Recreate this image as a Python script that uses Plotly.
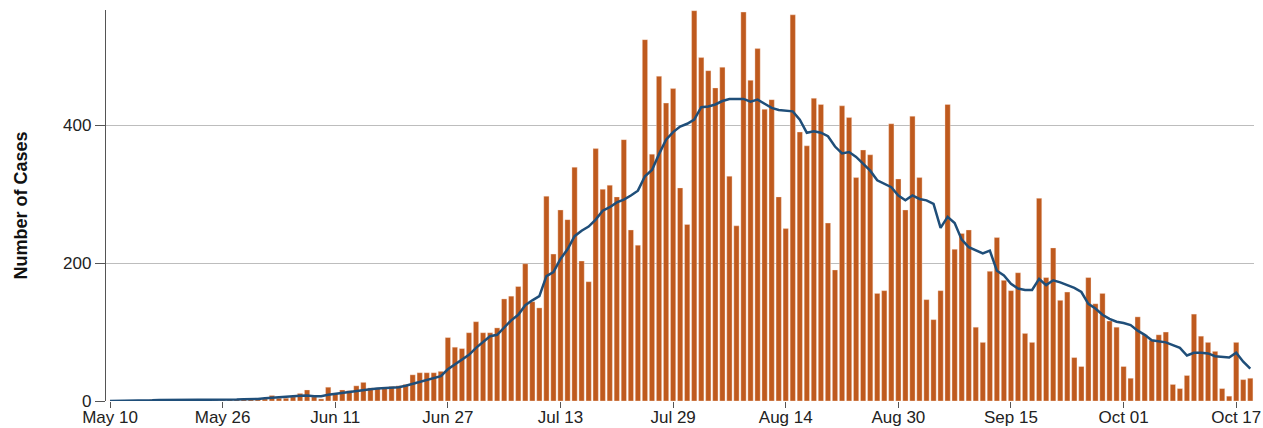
import pandas as pd
import plotly.graph_objects as go

# ---- data ----
start_date = "2020-05-10"

daily_cases = [
    0, 0, 0, 0, 0, 0, 2, 1, 1, 1, 1, 0, 1, 1, 1, 1, 2, 2, 2, 3, 3, 4, 3, 8,
    4, 4, 6, 11, 16, 6, 3, 20, 11, 16, 15, 22, 27, 19, 19, 20, 21, 22, 24, 38,
    41, 41, 41, 43, 92, 78, 76, 99, 115, 99, 99, 106, 148, 152, 166, 199, 144, 135,
    297, 213, 277, 263, 339, 203, 173, 366, 307, 313, 296, 379, 248, 226, 524, 358,
    471, 432, 453, 309, 256, 566, 498, 479, 454, 484, 326, 254, 564, 465, 511, 423,
    437, 296, 250, 560, 390, 370, 439, 430, 258, 190, 428, 411, 324, 364, 357, 156,
    160, 402, 322, 277, 413, 324, 147, 118, 160, 430, 220, 243, 248, 107, 85, 188,
    237, 175, 160, 186, 98, 85, 294, 179, 222, 146, 158, 63, 50, 179, 141, 156,
    116, 107, 50, 33, 122, 96, 88, 96, 100, 24, 18, 37, 126, 94, 85, 72,
    18, 7, 85, 31, 33,
]

rolling_average = [
    0, 0, 0, 0, 0, 0, 1, 1.5, 1.5, 1.5, 1, 1, 1, 1, 1, 1.5, 1.5, 2, 2, 2.5, 2.5, 3, 4, 5,
    6, 6.5, 7, 7.5, 8, 7, 7, 9, 10.5, 11.5, 12.5, 14, 16, 17, 18, 18.5, 19, 20, 22, 25,
    28, 31, 33, 36, 46, 53, 59, 67, 77, 86, 94, 96, 106, 117, 125, 139, 146, 152,
    181, 187, 206, 220, 239, 247, 253, 263, 276, 281, 288, 292, 298, 305, 326, 335,
    358, 379, 390, 398, 402, 408, 426, 427, 430, 435, 438, 438, 438, 434, 437, 431,
    425, 422, 421, 420, 408, 389, 391, 389, 384, 369, 359, 361, 354, 344, 334, 320,
    315, 310, 298, 291, 298, 293, 291, 286, 251, 267, 258, 234, 223, 218, 214, 218,
    189, 182, 170, 163, 161, 161, 177, 168, 175, 172, 168, 164, 158, 141, 134, 125,
    119, 115, 113, 110, 102, 96, 88, 86, 85, 81, 77, 66, 70, 70, 69, 65,
    64, 63, 70, 57, 47,
]

tick_dates = ["2020-05-10", "2020-05-26", "2020-06-11", "2020-06-27", "2020-07-13",
              "2020-07-29", "2020-08-14", "2020-08-30", "2020-09-15", "2020-10-01",
              "2020-10-17"]
tick_labels = ["May 10", "May 26", "Jun 11", "Jun 27", "Jul 13", "Jul 29",
               "Aug 14", "Aug 30", "Sep 15", "Oct 01", "Oct 17"]

y_ticks = [0, 200, 400]
y_title = "Number of Cases"

dates = pd.date_range(start_date, periods=len(daily_cases), freq="D")

FONT = "Arial, 'Liberation Sans', sans-serif"

fig = go.Figure()
fig.add_trace(go.Bar(
    x=dates, y=daily_cases,
    marker=dict(color="#bf5a1e", line=dict(color="rgba(255,235,225,0.6)", width=0.6)),
    hoverinfo="x+y", showlegend=False,
))
fig.add_trace(go.Scatter(
    x=dates, y=rolling_average, mode="lines",
    line=dict(color="#1f4e79", width=2.5),
    showlegend=False,
))

fig.update_layout(
    width=1263, height=428,
    margin=dict(l=106, r=9, t=10, b=27, pad=0),
    plot_bgcolor="white", paper_bgcolor="white",
    bargap=0.25,
    font=dict(family=FONT, size=17, color="#222"),
)

fig.update_xaxes(
    range=["2020-05-09 10:20", "2020-10-19 12:40"],
    tickvals=tick_dates, ticktext=tick_labels,
    ticks="outside", ticklen=6, tickcolor="#555", tickwidth=1.3,
    showgrid=False, showline=False, zeroline=False,
    tickfont=dict(family=FONT, size=17, color="#222"),
    ticklabelstandoff=-5,
    automargin=False,
)
fig.update_yaxes(
    range=[0, 567],
    tickvals=y_ticks,
    ticks="outside", ticklen=10, tickcolor="#555", tickwidth=1.3,
    showline=True, linecolor="#555", linewidth=1.3,
    showgrid=True, gridcolor="#bdbdbd", gridwidth=1,
    zeroline=False,
    tickfont=dict(family=FONT, size=17, color="#222"),
    title=dict(text="<b>" + y_title + "</b>", font=dict(family=FONT, size=18, color="#111"), standoff=30),
    automargin=False,
)

fig.write_html("out.html", post_script="document.body.style.margin='0';",
               config={"displayModeBar": False})
